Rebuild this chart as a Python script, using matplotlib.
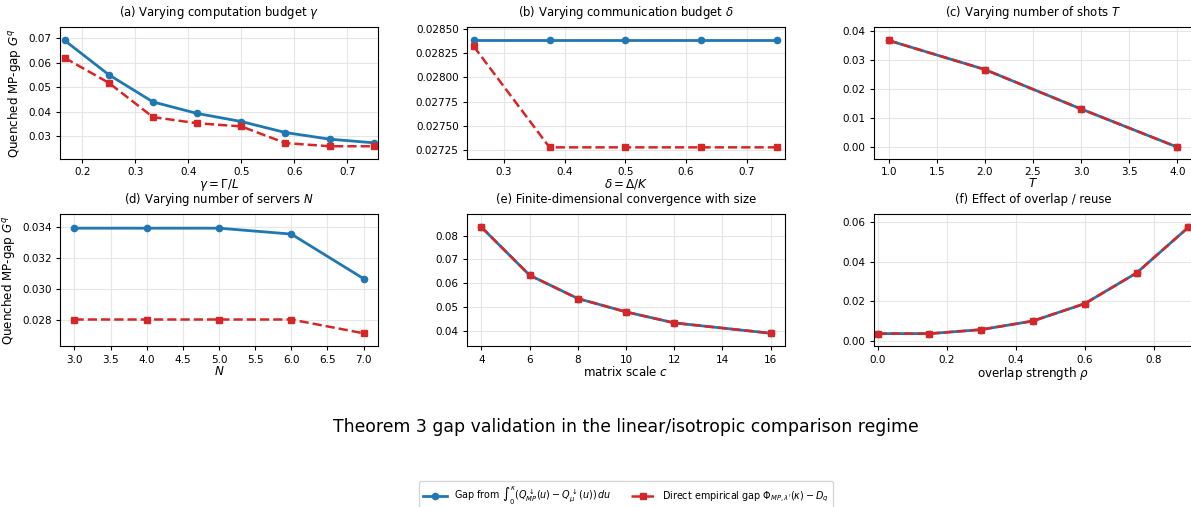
import numpy as np
import matplotlib
matplotlib.use("Agg")
import matplotlib.pyplot as plt
from matplotlib.ticker import FormatStrFormatter

BLUE = "#1f77b4"
RED = "#d62728"

# (a) computation budget
gamma = [1/6, 0.25, 1/3, 5/12, 0.5, 7/12, 2/3, 0.75]
gap_a = [0.0692, 0.0552, 0.0441, 0.0394, 0.0361, 0.0316, 0.0289, 0.0274]
emp_a = [0.0621, 0.0519, 0.0379, 0.0354, 0.0341, 0.0273, 0.0260, 0.0260]

# (b) communication budget
delta = [0.25, 0.375, 0.5, 0.625, 0.75]
gap_b = [0.028385, 0.028385, 0.028385, 0.028385, 0.028385]
emp_b = [0.028323, 0.027274, 0.027274, 0.027274, 0.027274]

# (c) number of shots
shots = [1, 2, 3, 4]
gap_c = [0.03677, 0.02674, 0.01314, 0.0]
emp_c = [0.03677, 0.02674, 0.01314, 0.0]

# (d) number of servers
servers = [3, 4, 5, 6, 7]
gap_d = [0.03390, 0.03390, 0.03390, 0.03352, 0.03064]
emp_d = [0.02800, 0.02800, 0.02800, 0.02800, 0.02711]

# (e) matrix scale
scale = [4, 6, 8, 10, 12, 16]
gap_e = [0.08348, 0.06341, 0.05366, 0.04808, 0.04348, 0.03916]
emp_e = [0.08348, 0.06341, 0.05366, 0.04808, 0.04348, 0.03916]

# (f) overlap strength
rho = [0.0, 0.15, 0.3, 0.45, 0.6, 0.75, 0.9]
gap_f = [0.00355, 0.00355, 0.00558, 0.00997, 0.01876, 0.03431, 0.05746]
emp_f = [0.00355, 0.00355, 0.00558, 0.00997, 0.01876, 0.03431, 0.05746]

panels = [
    (gamma, gap_a, emp_a, "(a) Varying computation budget $\\gamma$", "$\\gamma = \\Gamma/L$",
     (0.158, 0.758), (0.0208, 0.0747), "%.2f"),
    (delta, gap_b, emp_b, "(b) Varying communication budget $\\delta$", "$\\delta = \\Delta/K$",
     (0.239, 0.763), (0.027153, 0.028524), "%.5f"),
    (shots, gap_c, emp_c, "(c) Varying number of shots $T$", "$T$",
     (0.848, 4.152), (-0.0041, 0.0414), "%.2f"),
    (servers, gap_d, emp_d, "(d) Varying number of servers $N$", "$N$",
     (2.8, 7.2), (0.02627, 0.0348), "%.3f"),
    (scale, gap_e, emp_e, "(e) Finite-dimensional convergence with size", "matrix scale $c$",
     (3.4, 16.6), (0.0337, 0.0889), "%.2f"),
    (rho, gap_f, emp_f, "(f) Effect of overlap / reuse", "overlap strength $\\rho$",
     (-0.0106, 0.9106), (-0.00287, 0.0641), "%.2f"),
]

fig = plt.figure(figsize=(11.91, 5.07), dpi=100)

lefts = [0.0504, 0.3921, 0.7338]
bottoms = [0.6864, 0.317]
w, h = 0.267, 0.2604

for i, (x, g, e, title, xlabel, xl, yl, fmt) in enumerate(panels):
    ax = fig.add_axes([lefts[i % 3], bottoms[i // 3], w, h])
    l1, = ax.plot(x, g, color=BLUE, lw=2, marker="o", ms=4.5,
                  label=r"Gap from $\int_0^{\kappa}(Q_{MP}^{\downarrow}(u)-Q_{\mu}^{\downarrow}(u))\,du$")
    l2, = ax.plot(x, e, color=RED, lw=1.8, ls="--", marker="s", ms=5,
                  label=r"Direct empirical gap $\Phi_{MP,\lambda'}(\kappa)-D_q$")
    ax.set_xlim(*xl)
    ax.set_ylim(*yl)
    ax.yaxis.set_major_formatter(FormatStrFormatter(fmt))
    ax.grid(True, color="#e6e6e6", lw=0.8)
    ax.set_axisbelow(True)
    ax.set_title(title, fontsize=8.4, pad=8)
    ax.set_xlabel(xlabel, fontsize=8.6, labelpad=0)
    ax.tick_params(labelsize=7.5, length=3, pad=3)
    if i % 3 == 0:
        ax.set_ylabel("Quenched MP-gap $G^q$", fontsize=8.6)

# the title and legend sit centred on the full figure width, which extends past the right edge
cx = 0.5256
fig.text(cx, 0.158, "Theorem 3 gap validation in the linear/isotropic comparison regime",
         ha="center", va="center", fontsize=12.4)

fig.legend(handles=[l1, l2], loc="center", bbox_to_anchor=(cx, 0.022), ncol=2,
           fontsize=6.9, frameon=True, handlelength=2.5, columnspacing=2.0)

fig.savefig("out.png", dpi=100)
